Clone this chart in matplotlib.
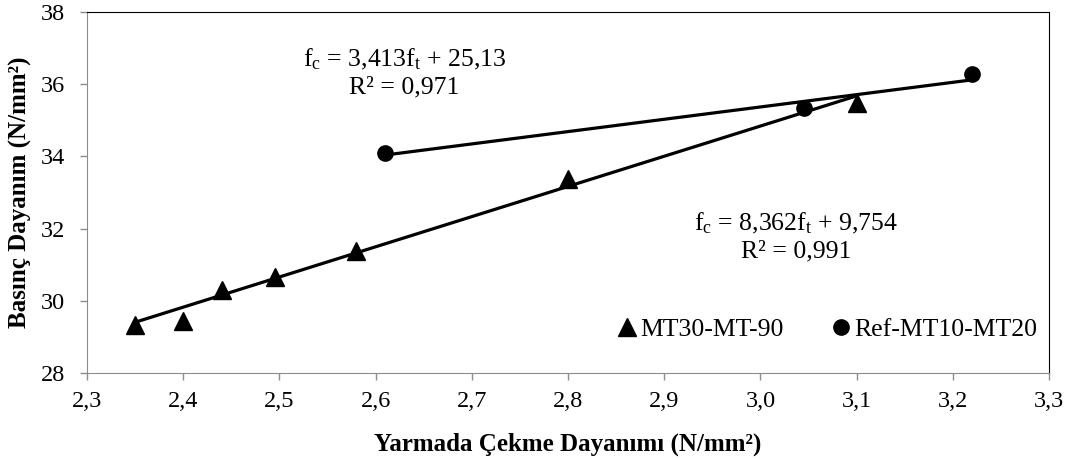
import matplotlib.pyplot as plt
import numpy as np

plt.rcParams['font.family'] = ['Liberation Serif', 'DejaVu Serif']
plt.rcParams['mathtext.fontset'] = 'custom'
plt.rcParams['mathtext.rm'] = 'Liberation Serif'
plt.rcParams['mathtext.it'] = 'Liberation Serif:italic'

# MT30-MT-90 series
mt_x = [2.35, 2.40, 2.44, 2.495, 2.58, 2.80, 3.10]
mt_y = [29.33, 29.45, 30.30, 30.67, 31.38, 33.37, 35.48]
mt_fit = (8.362, 9.754)
mt_r2 = "0,991"

# Ref-MT10-MT20 series
ref_x = [2.61, 3.045, 3.22]
ref_y = [34.09, 35.34, 36.28]
ref_fit = (3.413, 25.13)
ref_r2 = "0,971"

x_ticks = [2.3, 2.4, 2.5, 2.6, 2.7, 2.8, 2.9, 3.0, 3.1, 3.2, 3.3]
y_ticks = [28, 30, 32, 34, 36, 38]

def comma(v, fmt):
    return format(v, fmt).replace('.', ',')

fig = plt.figure(figsize=(10.71, 4.59), dpi=100)
ax = fig.add_axes([0.0812, 0.1874, 0.8983, 0.7865])

# trend lines from the fitted equations
for xs, (a, b) in ((mt_x, mt_fit), (ref_x, ref_fit)):
    xx = np.array([min(xs), max(xs)])
    ax.plot(xx, a * xx + b, color='black', lw=2.3, zorder=2)

ax.plot(mt_x, mt_y, '^', color='black', ms=12.5, ls='none', label='MT30-MT-90', zorder=3)
ax.plot(ref_x, ref_y, 'o', color='black', ms=11, ls='none', label='Ref-MT10-MT20', zorder=3)

ax.set_xlim(2.3, 3.3)
ax.set_ylim(28, 38)
ax.set_xticks(x_ticks)
ax.set_yticks(y_ticks)
ax.set_xticklabels([comma(v, '.1f') for v in x_ticks])
ax.set_yticklabels([str(v) for v in y_ticks])
ax.tick_params(direction='out', length=5, width=1, color='#8c8c8c', labelsize=17.5)
ax.tick_params(axis='x', pad=8)
ax.tick_params(axis='y', pad=11)

for s in ('left', 'bottom'):
    ax.spines[s].set_color('#8c8c8c')
for s in ('top', 'right'):
    ax.spines[s].set_color('black')

ax.set_xlabel('Yarmada Çekme Dayanımı (N/mm²)', fontsize=18, fontweight='bold', labelpad=15)
ax.set_ylabel('Basınç Dayanım (N/mm²)', fontsize=18, fontweight='bold', labelpad=6)

eq_fmt = r'f$_\mathrm{c}$ = %sf$_\mathrm{t}$ + %s' + '\nR² = %s'
ax.text(2.63, 36.31, eq_fmt % (comma(ref_fit[0], '.3f'), comma(ref_fit[1], '.2f'), ref_r2),
        ha='center', va='center', fontsize=18.5, linespacing=1.25)
ax.text(3.037, 31.77, eq_fmt % (comma(mt_fit[0], '.3f'), comma(mt_fit[1], '.3f'), mt_r2),
        ha='center', va='center', fontsize=18.5, linespacing=1.25)

ax.legend(loc='center left', bbox_to_anchor=(0.551, (373 - 330) / 361), ncol=2, frameon=False,
          fontsize=18.5, handletextpad=0.1, columnspacing=1.85, handlelength=0.8,
          borderpad=0, borderaxespad=0)

fig.savefig('out.png', dpi=100)
